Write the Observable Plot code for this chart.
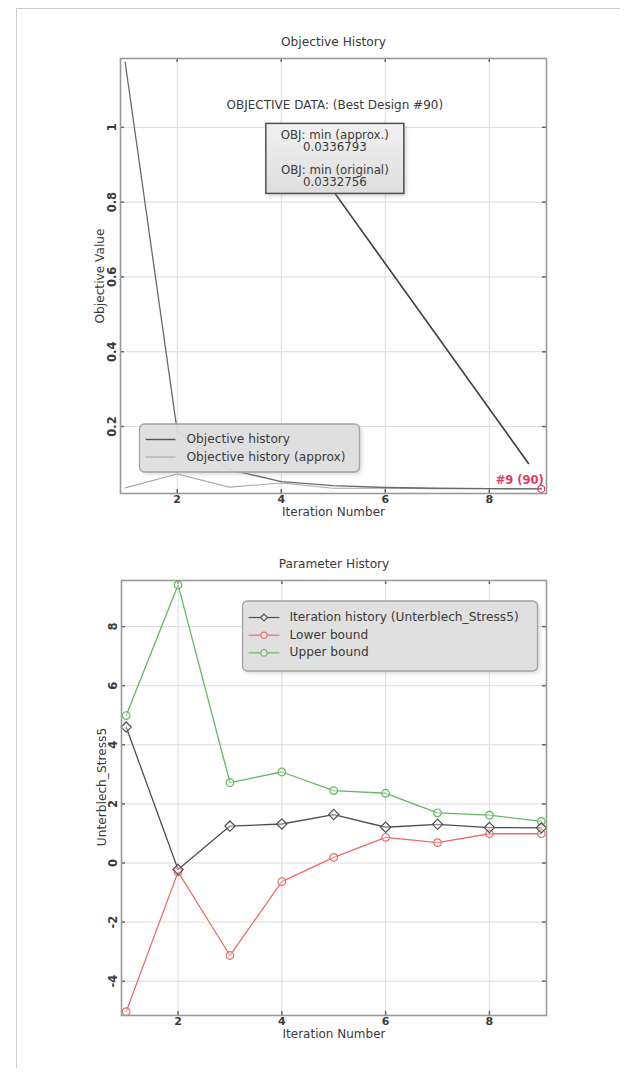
<!DOCTYPE html>
<html>
<head>
<meta charset="utf-8">
<script src="https://cdn.jsdelivr.net/npm/d3@7"></script>
<script src="https://cdn.jsdelivr.net/npm/@observablehq/plot@0.6"></script>
<style>
  body { margin: 0; background: #fff; }
  #page { position: relative; width: 627px; height: 1075px; overflow: hidden;
          font-family: "DejaVu Sans", Verdana, sans-serif; }
  #page svg { position: absolute; left: 0; overflow: visible; }
  .edge-top { position: absolute; left: 16px; top: 8px; width: 604px; border-top: 1.5px solid #cfcfcf; }
  .edge-left { position: absolute; left: 16px; top: 8px; height: 1060px; border-left: 1.5px solid #cfcfcf; }
</style>
</head>
<body>
<div id="page">
  <div class="edge-top"></div>
  <div class="edge-left"></div>
</div>
<script>
// ---- Objective history (iterations 1..9) ----
const iterations = [1, 2, 3, 4, 5, 6, 7, 8, 9];
const objectiveHistory = [1.174, 0.188, 0.085, 0.053, 0.042, 0.037, 0.035, 0.034, 0.0332756];
const objectiveApprox  = [0.036, 0.073, 0.038, 0.049, 0.035, 0.035, 0.034, 0.034, 0.0336793];
const objTicks = [0.2, 0.4, 0.6, 0.8, 1];
const objTickLabels = ["0.2", "0.4", "0.6", "0.8", "1"];
const iterTicks = [2, 4, 6, 8];
const iterTickLabels = ["2", "4", "6", "8"];
const bestIteration = 9;
const bestDesign = 90;
const bestApprox = 0.0336793;
const bestOriginal = 0.0332756;
// leader from the info box down towards the best design
const leaderFrom = {x: 5.04, y: 0.822};
const leaderTo = {x: 8.76, y: 0.1};

// ---- Parameter history: Unterblech_Stress5 ----
const paramName = "Unterblech_Stress5";
const paramHistory = [4.6, -0.22, 1.25, 1.32, 1.64, 1.21, 1.31, 1.2, 1.19];
const lowerBound   = [-5.03, -0.3, -3.13, -0.63, 0.19, 0.87, 0.69, 0.99, 0.99];
const upperBound   = [4.99, 9.41, 2.72, 3.08, 2.45, 2.36, 1.7, 1.62, 1.41];
const paramTicks = [-4, -2, 0, 2, 4, 6, 8];
const paramTickLabels = ["-4", "-2", "0", "2", "4", "6", "8"];

const FONT = "'DejaVu Sans', Verdana, sans-serif";
const FS = 12.2;
const TEXT = "#3a3a3a";
const RED = "#e23c5c";
const GREEN = "#63b863";
const LINE_RED = "#ec6b6b";
const DARK = "#4f4f4f";

const page = document.getElementById("page");

function frameDecor(xTicks, xLabels, yTicks, yLabels, fw, fh, title, xLabel, yLabel, yLabelDx, yLabelDy, yTickDx) {
  return [
    Plot.ruleX(xTicks, {x: d => d, stroke: "#dcdcdc", strokeWidth: 1}),
    Plot.ruleY(yTicks, {y: d => d, stroke: "#dcdcdc", strokeWidth: 1}),
    // inward tick marks on all four sides
    Plot.tickX(xTicks, {x: d => d, insetTop: fh - 4, stroke: "#666", strokeWidth: 1.5}),
    Plot.tickX(xTicks, {x: d => d, insetBottom: fh - 4, stroke: "#666", strokeWidth: 1.5}),
    Plot.tickY(yTicks, {y: d => d, insetRight: fw - 4, stroke: "#666", strokeWidth: 1.5}),
    Plot.tickY(yTicks, {y: d => d, insetLeft: fw - 4, stroke: "#666", strokeWidth: 1.5}),
    Plot.text(xTicks, {x: d => d, text: (d, i) => xLabels[i], frameAnchor: "bottom", dy: 9,
      fill: TEXT, fontSize: 11, fontWeight: 600}),
    Plot.text(yTicks, {y: d => d, text: (d, i) => yLabels[i], frameAnchor: "left", textAnchor: "middle",
      dx: yTickDx, rotate: -90, fill: TEXT, fontSize: 11.5, fontWeight: 600}),
    Plot.text([title], {frameAnchor: "top", dy: -21, fill: TEXT, fontSize: FS}),
    Plot.text([xLabel], {frameAnchor: "bottom", dy: 22.5, fill: TEXT, fontSize: 12}),
    Plot.text([yLabel], {frameAnchor: "left", textAnchor: "middle", dx: yLabelDx, dy: yLabelDy,
      rotate: -90, fill: TEXT, fontSize: FS})
  ];
}

function addShadowFilter(svg, id) {
  const defs = svg.append("defs");
  const f = defs.append("filter").attr("id", id).attr("x", "-10%").attr("y", "-10%")
    .attr("width", "130%").attr("height", "140%");
  f.append("feGaussianBlur").attr("stdDeviation", 2);
  return defs;
}

// ================= Objective History =================
{
  const W = 627, H = 540, mL = 120, mR = 81, mT = 58, mB = 47;
  const fw = W - mL - mR, fh = H - mT - mB;
  const rows = iterations.map((it, i) => ({it, obj: objectiveHistory[i], approx: objectiveApprox[i]}));
  const chart = Plot.plot({
    width: W, height: H, marginLeft: mL, marginRight: mR, marginTop: mT, marginBottom: mB,
    x: {domain: [0.91, 9.1], axis: null},
    y: {domain: [0.021, 1.184], axis: null},
    style: {fontFamily: FONT, fontSize: "12px", background: "transparent", overflow: "visible"},
    marks: [
      ...frameDecor(iterTicks, iterTickLabels, objTicks, objTickLabels, fw, fh,
        "Objective History", "Iteration Number", "Objective Value", -20, 0, -8.5),
      Plot.line(rows, {x: "it", y: "approx", stroke: "#a8a8a8", strokeWidth: 1.1}),
      Plot.line(rows, {x: "it", y: "obj", stroke: "#6a6a6a", strokeWidth: 1.3}),
      Plot.link([{x1: leaderFrom.x, y1: leaderFrom.y, x2: leaderTo.x, y2: leaderTo.y}],
        {x1: "x1", y1: "y1", x2: "x2", y2: "y2", stroke: "#3c3c3c", strokeWidth: 1.6}),
      Plot.dot([{x: bestIteration, y: bestOriginal}], {x: "x", y: "y", r: 3.5, stroke: RED, strokeWidth: 1.3}),
      Plot.text([{x: bestIteration, y: bestOriginal}], {x: "x", y: "y", text: () => `#${bestIteration} (${bestDesign})`,
        textAnchor: "end", dx: 2.5, dy: -9, fill: RED, fontSize: 11.5, fontWeight: 600}),
      Plot.frame({stroke: "#999", strokeWidth: 1.6})
    ]
  });
  chart.style.top = "0px";
  page.appendChild(chart);

  const xs = chart.scale("x"), ys = chart.scale("y");
  const svg = d3.select(chart);
  const defs = addShadowFilter(svg, "shadowA");
  const grad = defs.append("linearGradient").attr("id", "boxFill").attr("x1", 0).attr("y1", 0).attr("x2", 0).attr("y2", 1);
  grad.append("stop").attr("offset", "0%").attr("stop-color", "#f1f1f1");
  grad.append("stop").attr("offset", "100%").attr("stop-color", "#dedede");

  // info box anchored on the leader start
  const bx = xs.apply(leaderFrom.x), by = ys.apply(leaderFrom.y);
  const bw = 138, bh = 70;
  const g = svg.append("g").attr("font-family", FONT).attr("font-size", 11.8).attr("fill", TEXT)
    .attr("text-anchor", "middle");
  g.append("text").attr("x", bx).attr("y", by - bh - 18).attr("font-size", 12)
    .attr("dominant-baseline", "middle").text(`OBJECTIVE DATA: (Best Design #${bestDesign})`);
  g.append("rect").attr("x", bx - bw / 2 + 2).attr("y", by - bh + 2).attr("width", bw).attr("height", bh)
    .attr("fill", "#9a9a9a").attr("opacity", 0.5).attr("filter", "url(#shadowA)");
  g.append("rect").attr("x", bx - bw / 2).attr("y", by - bh).attr("width", bw).attr("height", bh)
    .attr("fill", "url(#boxFill)").attr("stroke", "#505050").attr("stroke-width", 1.5);
  const lines = [["OBJ: min (approx.)", 12.5], [bestApprox.toString(), 24.5], ["OBJ: min (original)", 47.5], [bestOriginal.toString(), 59.5]];
  lines.forEach(([t, dy]) => g.append("text").attr("x", bx).attr("y", by - bh + dy)
    .attr("dominant-baseline", "middle").text(t));

  // legend
  const lx = 139.5, ly = 424, lw = 220, lh = 48;
  const lg = svg.append("g").attr("font-family", FONT).attr("font-size", FS).attr("fill", TEXT)
    .attr("text-anchor", "start");
  lg.append("rect").attr("x", lx + 2).attr("y", ly + 2).attr("width", lw).attr("height", lh).attr("rx", 5)
    .attr("fill", "#a0a0a0").attr("opacity", 0.45).attr("filter", "url(#shadowA)");
  lg.append("rect").attr("x", lx).attr("y", ly).attr("width", lw).attr("height", lh).attr("rx", 5)
    .attr("fill", "#e0e0e0").attr("fill-opacity", 0.9).attr("stroke", "#a3a3a3").attr("stroke-width", 1.3);
  [["Objective history", "#555", 1.4, 15.5], ["Objective history (approx)", "#a8a8a8", 1.1, 33]].forEach(([t, c, w, dy]) => {
    lg.append("line").attr("x1", lx + 6).attr("x2", lx + 36).attr("y1", ly + dy).attr("y2", ly + dy)
      .attr("stroke", c).attr("stroke-width", w);
    lg.append("text").attr("x", lx + 47).attr("y", ly + dy).attr("dominant-baseline", "middle").text(t);
  });
}

// ================= Parameter History =================
{
  const W = 627, H = 535, mL = 121, mR = 81, mT = 40, mB = 60;
  const fw = W - mL - mR, fh = H - mT - mB;
  const series = [
    {key: `Iteration history (${paramName})`, values: paramHistory, color: DARK, symbol: "diamond2", r: 4.6},
    {key: "Lower bound", values: lowerBound, color: LINE_RED, symbol: "circle", r: 3.8},
    {key: "Upper bound", values: upperBound, color: GREEN, symbol: "circle", r: 3.8}
  ];
  const rows = series.flatMap(s => iterations.map((it, i) => ({key: s.key, it, v: s.values[i]})));
  const drawOrder = [series[2], series[1], series[0]];
  const chart = Plot.plot({
    width: W, height: H, marginLeft: mL, marginRight: mR, marginTop: mT, marginBottom: mB,
    x: {domain: [0.91, 9.1], axis: null},
    y: {domain: [-5.16, 9.56], axis: null},
    style: {fontFamily: FONT, fontSize: "12px", background: "transparent", overflow: "visible"},
    marks: [
      ...frameDecor(iterTicks, iterTickLabels, paramTicks, paramTickLabels, fw, fh,
        "Parameter History", "Iteration Number", paramName, -19, -11, -8.5),
      ...drawOrder.flatMap(s => [
        Plot.line(rows.filter(d => d.key === s.key), {x: "it", y: "v", stroke: s.color, strokeWidth: 1.3}),
        Plot.dot(rows.filter(d => d.key === s.key), {x: "it", y: "v", symbol: () => s.symbol, r: s.r,
          stroke: s.color, fill: "#fff", fillOpacity: 0.35, strokeWidth: 1.2})
      ]),
      Plot.frame({stroke: "#999", strokeWidth: 1.6})
    ]
  });
  chart.style.top = "540px";
  page.appendChild(chart);

  const svg = d3.select(chart);
  addShadowFilter(svg, "shadowB");
  const lx = 242.5, ly = 61, lw = 295, lh = 70;
  const lg = svg.append("g").attr("font-family", FONT).attr("font-size", FS).attr("fill", TEXT)
    .attr("text-anchor", "start");
  lg.append("rect").attr("x", lx + 2).attr("y", ly + 2).attr("width", lw).attr("height", lh).attr("rx", 5)
    .attr("fill", "#a0a0a0").attr("opacity", 0.45).attr("filter", "url(#shadowB)");
  lg.append("rect").attr("x", lx).attr("y", ly).attr("width", lw).attr("height", lh).attr("rx", 5)
    .attr("fill", "#e0e0e0").attr("stroke", "#a3a3a3").attr("stroke-width", 1.3);
  series.forEach((s, i) => {
    const yy = ly + 16.5 + i * 17.7;
    lg.append("line").attr("x1", lx + 6).attr("x2", lx + 37).attr("y1", yy).attr("y2", yy)
      .attr("stroke", s.color).attr("stroke-width", 1.2);
    const sym = s.symbol === "diamond2" ? d3.symbolDiamond2 : d3.symbolCircle;
    lg.append("path").attr("d", d3.symbol(sym, 30)()).attr("transform", `translate(${lx + 21.5},${yy})`)
      .attr("fill", "#e8e8e8").attr("stroke", s.color).attr("stroke-width", 1.1);
    lg.append("text").attr("x", lx + 47).attr("y", yy).attr("dominant-baseline", "middle").text(s.key);
  });
}
</script>
</body>
</html>
